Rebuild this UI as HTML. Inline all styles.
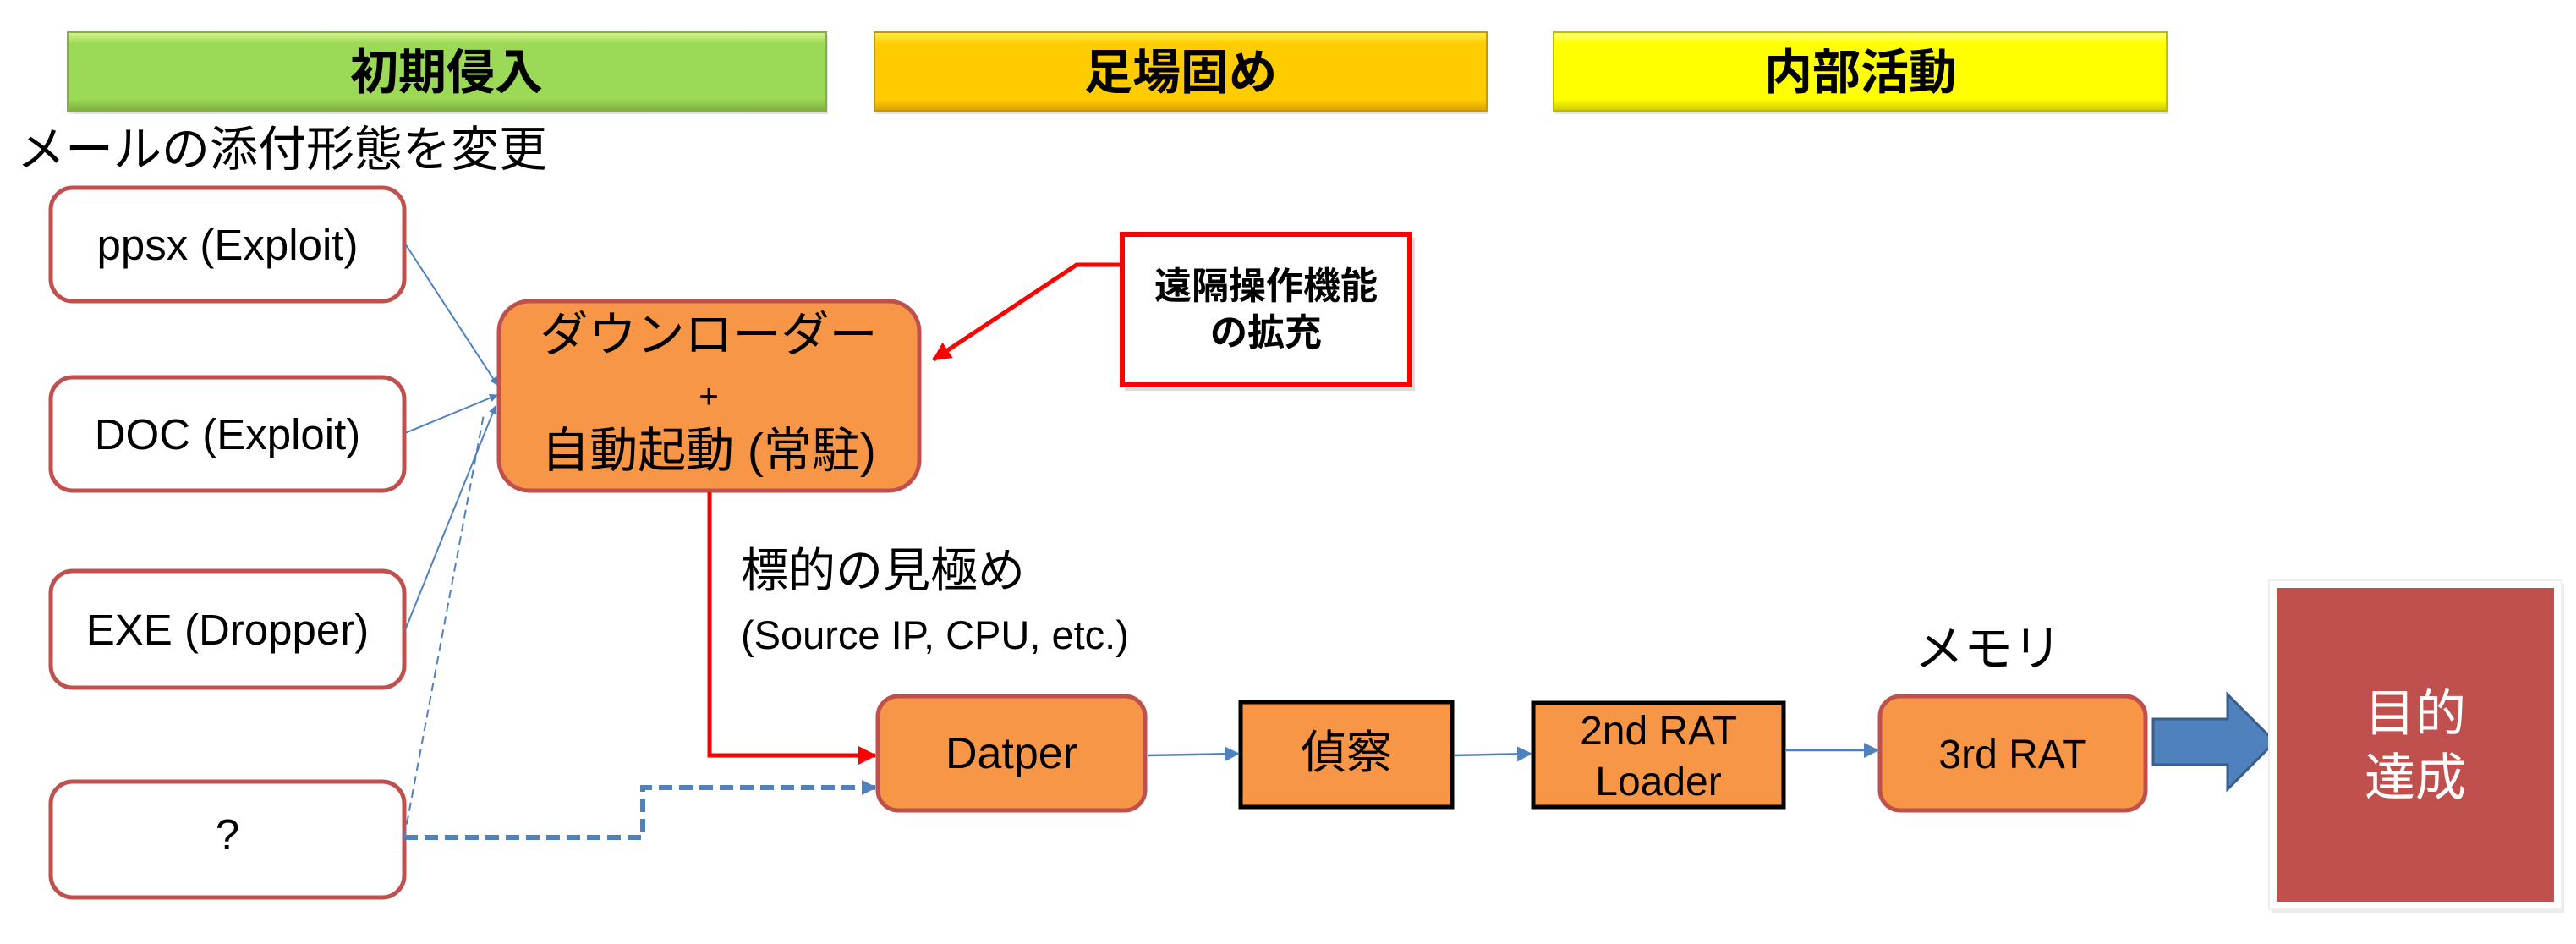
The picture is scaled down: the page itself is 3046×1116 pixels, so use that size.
<!DOCTYPE html>
<html><head><meta charset="utf-8"><style>
html,body{margin:0;padding:0;background:#fff;}
svg{display:block;}
text{font-family:"Liberation Sans","Noto Sans CJK JP",sans-serif;}
</style></head><body>
<svg width="3046" height="1116" viewBox="0 0 3046 1116" xmlns="http://www.w3.org/2000/svg">
<defs>
<linearGradient id="g1" x1="0" y1="0" x2="0" y2="1"><stop offset="0" stop-color="#d6f58a"/><stop offset="0.15" stop-color="#9bd956"/><stop offset="0.85" stop-color="#9bd956"/><stop offset="1" stop-color="#7fb040"/></linearGradient>
<linearGradient id="g2" x1="0" y1="0" x2="0" y2="1"><stop offset="0" stop-color="#fff04a"/><stop offset="0.15" stop-color="#ffcc00"/><stop offset="0.85" stop-color="#ffcc00"/><stop offset="1" stop-color="#d9a200"/></linearGradient>
<linearGradient id="g3" x1="0" y1="0" x2="0" y2="1"><stop offset="0" stop-color="#ffff80"/><stop offset="0.15" stop-color="#ffff00"/><stop offset="0.85" stop-color="#ffff00"/><stop offset="1" stop-color="#cccc00"/></linearGradient>
<marker id="ab" markerWidth="10" markerHeight="10" refX="9" refY="5" orient="auto" markerUnits="userSpaceOnUse"><path d="M0,0 L10,5 L0,10z" fill="#4f81bd"/></marker>
<marker id="abl" markerWidth="18" markerHeight="18" refX="16" refY="9" orient="auto" markerUnits="userSpaceOnUse"><path d="M0,0 L18,9 L0,18z" fill="#4f81bd"/></marker>
<marker id="ar" markerWidth="22" markerHeight="22" refX="20" refY="11" orient="auto" markerUnits="userSpaceOnUse"><path d="M0,0 L22,11 L0,22z" fill="#ff0000"/></marker>
</defs>

<!-- top bars -->
<rect x="82" y="42" width="897" height="93" fill="#ccc" opacity="0.5"/>
<rect x="80" y="38" width="897" height="93" fill="url(#g1)" stroke="#7fb040" stroke-width="2"/>
<text x="528" y="105" font-size="57" font-weight="bold" text-anchor="middle">初期侵入</text>
<rect x="1036" y="42" width="724" height="93" fill="#ccc" opacity="0.5"/>
<rect x="1034" y="38" width="724" height="93" fill="url(#g2)" stroke="#c89600" stroke-width="2"/>
<text x="1396" y="105" font-size="57" font-weight="bold" text-anchor="middle">足場固め</text>
<rect x="1839" y="42" width="725" height="93" fill="#ccc" opacity="0.5"/>
<rect x="1837" y="38" width="725" height="93" fill="url(#g3)" stroke="#bbbb00" stroke-width="2"/>
<text x="2200" y="105" font-size="57" font-weight="bold" text-anchor="middle">内部活動</text>

<text x="20" y="196" font-size="57">メールの添付形態を変更</text>

<!-- left boxes -->
<g fill="#fff" stroke="#c0504d" stroke-width="5">
<rect x="60" y="222" width="418" height="134" rx="26"/>
<rect x="60" y="446" width="418" height="134" rx="26"/>
<rect x="60" y="675" width="418" height="138" rx="26"/>
<rect x="60" y="924" width="418" height="137" rx="26"/>
</g>
<g font-size="51" text-anchor="middle">
<text x="269" y="307">ppsx (Exploit)</text>
<text x="269" y="531">DOC (Exploit)</text>
<text x="269" y="762">EXE (Dropper)</text>
<text x="269" y="1004">?</text>
</g>

<!-- connectors to downloader -->
<g stroke="#4f81bd" stroke-width="2" fill="none">
<line x1="479" y1="288" x2="588" y2="455" marker-end="url(#ab)"/>
<line x1="479" y1="512" x2="588" y2="467" marker-end="url(#ab)"/>
<line x1="479" y1="745" x2="586" y2="480" marker-end="url(#ab)"/>
<line x1="478" y1="990" x2="572" y2="490" stroke-dasharray="10,6"/>
</g>
<path d="M478,990 L760,990 L760,931 L1035,931" stroke="#4f81bd" stroke-width="6" fill="none" stroke-dasharray="16,8" marker-end="url(#abl)"/>

<!-- downloader -->
<rect x="590" y="356" width="497" height="224" rx="36" fill="#f79646" stroke="#c0504d" stroke-width="5"/>
<g font-size="57" text-anchor="middle">
<text x="838" y="415">ダウンローダー</text>
<text x="838" y="482" font-size="40">+</text>
<text x="838" y="552">自動起動 (常駐)</text>
</g>

<!-- red path -->
<path d="M839,582 L839,893 L1035,893" stroke="#ff0000" stroke-width="5" fill="none" marker-end="url(#ar)"/>
<text x="876" y="694" font-size="56">標的の見極め</text>
<text x="876" y="767" font-size="47">(Source IP, CPU, etc.)</text>

<!-- callout -->
<rect x="1330" y="281" width="343" height="181" fill="#bbb" opacity="0.5"/>
<rect x="1327" y="277" width="340" height="178" fill="#fff" stroke="#ff0000" stroke-width="6"/>
<text x="1497" y="353" font-size="44" font-weight="bold" text-anchor="middle">遠隔操作機能</text>
<text x="1497" y="408" font-size="44" font-weight="bold" text-anchor="middle">の拡充</text>
<path d="M1325,313 L1273,313 L1104,425" stroke="#ff0000" stroke-width="5" fill="none" marker-end="url(#ar)"/>

<!-- flow -->
<rect x="1038" y="823" width="316" height="135" rx="24" fill="#f79646" stroke="#c0504d" stroke-width="5"/>
<text x="1196" y="908" font-size="52" text-anchor="middle">Datper</text>
<rect x="1467" y="830" width="250" height="124" fill="#f79646" stroke="#000" stroke-width="5"/>
<text x="1592" y="908" font-size="54" text-anchor="middle">偵察</text>
<rect x="1813" y="831" width="296" height="123" fill="#f79646" stroke="#000" stroke-width="5"/>
<text x="1961" y="880" font-size="48" text-anchor="middle">2nd RAT</text>
<text x="1961" y="940" font-size="48" text-anchor="middle">Loader</text>
<rect x="2223" y="823" width="314" height="135" rx="24" fill="#f79646" stroke="#c0504d" stroke-width="5"/>
<text x="2380" y="908" font-size="48" text-anchor="middle">3rd RAT</text>
<text x="2264" y="787" font-size="58">メモリ</text>

<g stroke="#4f81bd" stroke-width="2.5" fill="none">
<line x1="1357" y1="893" x2="1464" y2="891" marker-end="url(#abl)"/>
<line x1="1719" y1="893" x2="1810" y2="891" marker-end="url(#abl)"/>
<line x1="2111" y1="887" x2="2220" y2="887" marker-end="url(#abl)"/>
</g>

<!-- big arrow -->
<path d="M2546,850 L2634,850 L2634,821 L2690,877 L2634,933 L2634,904 L2546,904 Z" fill="#4f81bd" stroke="#385d8a" stroke-width="3"/>

<!-- goal -->
<rect x="2686" y="690" width="346" height="389" fill="#ddd" opacity="0.6"/>
<rect x="2683" y="686" width="346" height="389" fill="#fff" stroke="#eee" stroke-width="2"/>
<rect x="2692" y="695" width="328" height="371" fill="#c0504d"/>
<text x="2856" y="864" font-size="60" fill="#fff" text-anchor="middle">目的</text>
<text x="2856" y="940" font-size="60" fill="#fff" text-anchor="middle">達成</text>
</svg>
</body></html>
